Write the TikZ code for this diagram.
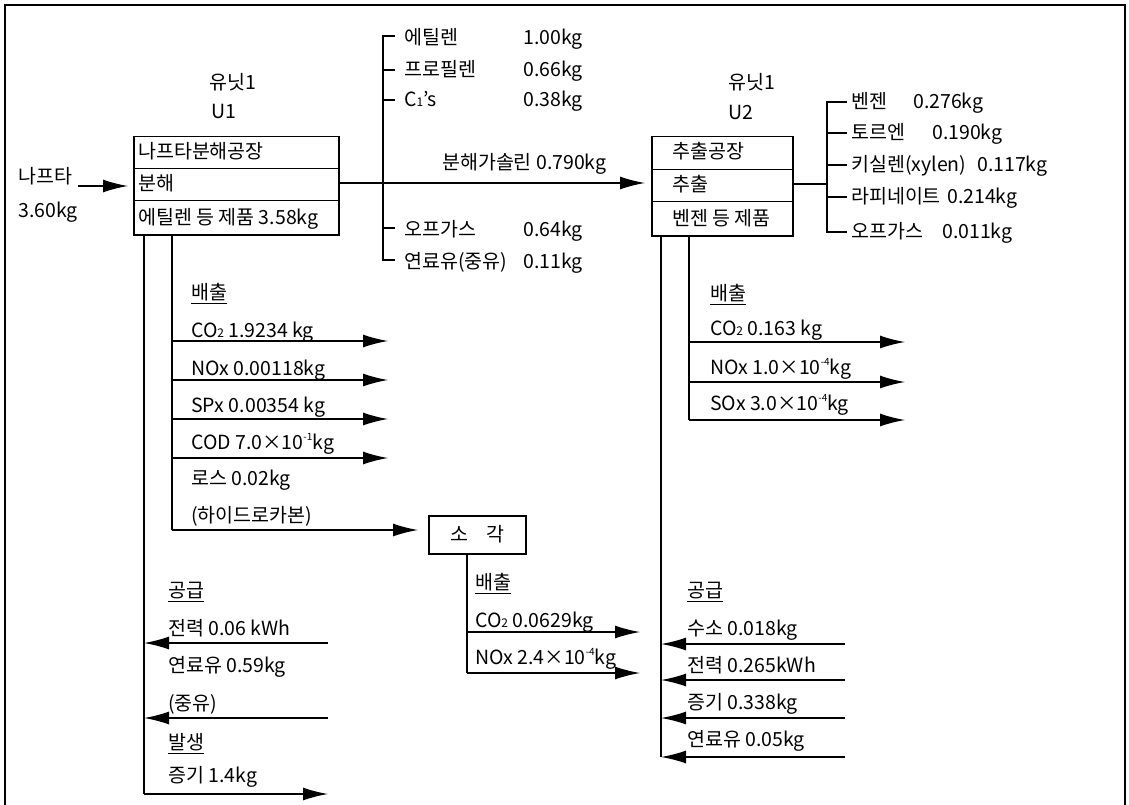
\documentclass[tikz,border=0pt]{standalone}
\usepackage{fontspec}
\setmainfont{Noto Sans CJK KR}
\usetikzlibrary{arrows.meta}
\newcommand\fs{\fontsize{19.5}{22}\selectfont}
\newcommand\supx[1]{\raisebox{0.8ex}{\fontsize{10}{10}\selectfont #1}}
\newcommand\subx[1]{{\fontsize{12}{12}\selectfont #1}}
\tikzset{
  lbl/.style={anchor=west, inner sep=0pt, text height=14pt, text depth=0pt, font=\fs},
  rowbox/.style={draw, line width=1.5pt, rectangle, inner sep=0pt, anchor=north west},
  ln/.style={line width=1.5pt},
  arr/.style={line width=1.5pt, -{Latex[length=25pt,width=13pt]}},
  uline/.style={line width=1.2pt},
}
\begin{document}
\begin{tikzpicture}[x=1pt,y=-1pt]
\useasboundingbox (0,0) rectangle (1129,805);
\draw[ln] (5,805) -- (5,5) -- (1125,5) -- (1125,805);

% ---------- U1 ----------
\node[lbl] (u1t1) at (209,83) {유닛1};
\node[lbl] (u1t2) at (211,112) {U1};
\node[rowbox, minimum width=205pt, minimum height=32pt] (u1a) at (133,136) {};
\node[rowbox, minimum width=205pt, minimum height=32pt] (u1b) at (133,168) {};
\node[rowbox, minimum width=205pt, minimum height=34pt] (u1c) at (133,200) {};
\node[lbl] (u1x1) at (138,152) {나프타분해공장};
\node[lbl] (u1x2) at (138,184) {분해};
\node[lbl] (u1x3) at (138,217) {에틸렌 등 제품 3.58kg};

\node[lbl] (in1) at (18,177) {나프타};
\node[lbl] (in2) at (18,210) {3.60kg};
\coordinate (inS) at (78,186);
\coordinate (inE) at (128,186);
\draw[arr] (inS) -- (inE);

% main line U1 -> U2
\coordinate (mS) at (338,183);
\coordinate (mE) at (645,183);
\draw[arr] (mS) -- (mE);
\node[lbl] (gas) at (442,163) {분해가솔린 0.790kg};

% bracket 1
\coordinate (b1t) at (383,36);
\coordinate (b1b) at (383,260);
\draw[ln] (395,36) -- (b1t) -- (b1b) -- (395,260);
\foreach \yy in {70,100,228} { \draw[ln] (383,\yy) -- (395,\yy); }
\node[lbl] (p1) at (404,38) {에틸렌};
\node[lbl] (p2) at (404,70) {프로필렌};
\node[lbl] (p3) at (404,100) {C\subx{1}’s};
\node[lbl] (p4) at (404,229) {오프가스};
\node[lbl] (p5) at (404,261) {연료유(중유)};
\node[lbl, anchor=east] (v1) at (583,38) {1.00kg};
\node[lbl, anchor=east] (v2) at (583,70) {0.66kg};
\node[lbl, anchor=east] (v3) at (583,100) {0.38kg};
\node[lbl, anchor=east] (v4) at (583,229) {0.64kg};
\node[lbl, anchor=east] (v5) at (583,261) {0.11kg};

% ---------- U2 ----------
\node[lbl] (u2t1) at (728,83) {유닛1};
\node[lbl] (u2t2) at (728,113) {U2};
\node[rowbox, minimum width=141pt, minimum height=33pt] (u2a) at (651,136) {};
\node[rowbox, minimum width=141pt, minimum height=32pt] (u2b) at (651,169) {};
\node[rowbox, minimum width=141pt, minimum height=34pt] (u2c) at (651,201) {};
\node[lbl] (u2x1) at (672,152) {추출공장};
\node[lbl] (u2x2) at (672,185) {추출};
\node[lbl] (u2x3) at (672,218) {벤젠 등 제품};

\coordinate (b2m) at (827,184);
\draw[ln] (792,184) -- (b2m);
\draw[ln] (847,102) -- (827,102) -- (827,232) -- (847,232);
\foreach \yy in {133,165,197} { \draw[ln] (827,\yy) -- (847,\yy); }
\node[lbl] (q1) at (851,102) {벤젠};
\node[lbl] (q1v) at (913,102) {0.276kg};
\node[lbl] (q2) at (851,133) {토르엔};
\node[lbl] (q2v) at (932,133) {0.190kg};
\node[lbl] (q3) at (851,165) {키실렌(xylen)};
\node[lbl] (q3v) at (977,165) {0.117kg};
\node[lbl] (q4) at (851,197) {라피네이트};
\node[lbl] (q4v) at (947,197) {0.214kg};
\node[lbl] (q5) at (851,231) {오프가스};
\node[lbl] (q5v) at (942,231) {0.011kg};

% ---------- U1 emissions ----------
\coordinate (L1) at (144,234);
\coordinate (L1e) at (144,794);
\coordinate (L2) at (172,234);
\coordinate (L2e) at (172,530);
\draw[ln] (L1) -- (L1e);
\draw[ln] (L2) -- (L2e);
\node[lbl] (e0) at (191,292) {배출};
\draw[uline] ([yshift=-4pt]e0.south west) -- ([yshift=-4pt]e0.south east);
\node[lbl] (e1) at (191,330) {CO\subx{2} 1.9234 kg};
\node[lbl] (e2) at (191,368) {NOx 0.00118kg};
\node[lbl] (e3) at (191,405) {SPx 0.00354 kg};
\node[lbl] (e4) at (191,442) {COD 7.0×10\supx{-1}kg};
\node[lbl] (e5) at (191,478) {로스 0.02kg};
\node[lbl] (e6) at (191,515) {(하이드로카본)};
\foreach \yy in {341,380,419,458} { \draw[arr] (172,\yy) -- (388,\yy); }

% incineration
\node[rowbox, minimum width=97pt, minimum height=38pt] (inc) at (428,515) {};
\node[inner sep=0pt, font=\fs, text height=14pt, text depth=0pt] (inct) at (inc.center) {소\hspace{18pt}각};
\draw[arr] (L2e) -- ([xshift=-10pt]inc.west |- L2e);
\coordinate (iv) at (467,553);
\coordinate (ive) at (467,673);
\draw[ln] (iv) -- (ive);
\node[lbl] (i0) at (475,582) {배출};
\draw[uline] ([yshift=-4pt]i0.south west) -- ([yshift=-4pt]i0.south east);
\node[lbl] (i1) at (475,620) {CO\subx{2} 0.0629kg};
\node[lbl] (i2) at (475,657) {NOx 2.4×10\supx{-4}kg};
\draw[arr] (467,632) -- (640,632);
\draw[arr] (ive) -- (640,673);

% U1 supply
\node[lbl] (s0) at (168,590) {공급};
\draw[uline] ([yshift=-4pt]s0.south west) -- ([yshift=-4pt]s0.south east);
\node[lbl] (s1) at (168,628) {전력 0.06 kWh};
\node[lbl] (s2) at (168,665) {연료유 0.59kg};
\node[lbl] (s3) at (168,703) {(중유)};
\draw[arr] (328,643) -- (144,643);
\draw[arr] (328,718) -- (144,718);
\node[lbl] (g0) at (168,742) {발생};
\draw[uline] ([yshift=-4pt]g0.south west) -- ([yshift=-4pt]g0.south east);
\node[lbl] (g1) at (168,775) {증기 1.4kg};
\draw[arr] (L1e) -- (328,794);

% ---------- U2 emissions ----------
\coordinate (R1) at (661,235);
\coordinate (R1e) at (661,757);
\coordinate (R2) at (689,235);
\coordinate (R2e) at (689,420);
\draw[ln] (R1) -- (R1e);
\draw[ln] (R2) -- (R2e);
\node[lbl] (f0) at (710,293) {배출};
\draw[uline] ([yshift=-4pt]f0.south west) -- ([yshift=-4pt]f0.south east);
\node[lbl] (f1) at (710,328) {CO\subx{2} 0.163 kg};
\node[lbl] (f2) at (710,367) {NOx 1.0×10\supx{-4}kg};
\node[lbl] (f3) at (710,403) {SOx 3.0×10\supx{-4}kg};
\draw[arr] (689,342) -- (905,342);
\draw[arr] (689,382) -- (905,382);
\draw[arr] (R2e) -- (905,420);

% U2 supply
\node[lbl] (h0) at (687,590) {공급};
\draw[uline] ([yshift=-4pt]h0.south west) -- ([yshift=-4pt]h0.south east);
\node[lbl] (h1) at (687,628) {수소 0.018kg};
\node[lbl] (h2) at (687,665) {전력 0.265kWh};
\node[lbl] (h3) at (687,702) {증기 0.338kg};
\node[lbl] (h4) at (687,739) {연료유 0.05kg};
\draw[arr] (845,644) -- (661,644);
\draw[arr] (845,680) -- (661,680);
\draw[arr] (845,718) -- (661,718);
\draw[arr] (845,757) -- (R1e);
\end{tikzpicture}
\end{document}
